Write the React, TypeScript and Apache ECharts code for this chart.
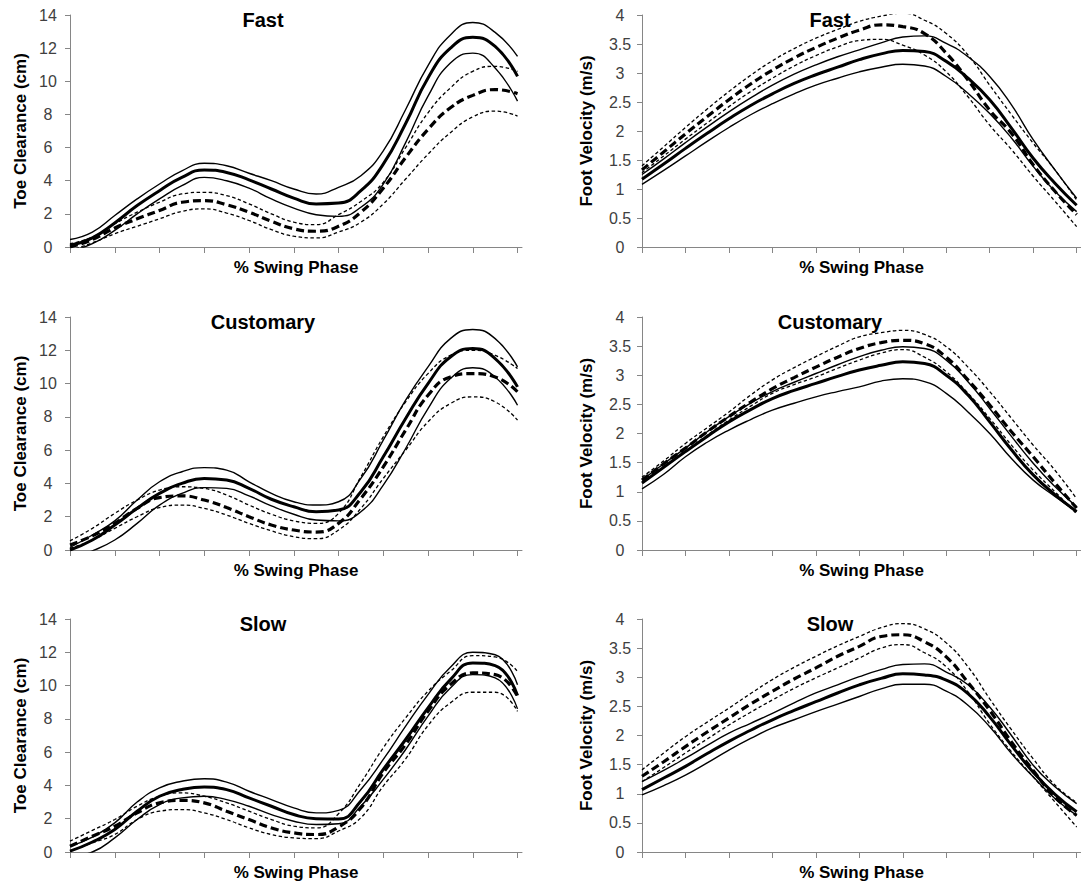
import React, { useEffect, useRef } from "react";
import * as echarts from "echarts";

// % swing phase sample points
const pct = [0, 5, 10, 15, 20, 25, 30, 35, 40, 45, 50, 55, 60, 65, 70, 75, 80, 85, 90, 95, 100];
const xTicks = [0, 10, 20, 30, 40, 50, 60, 70, 80, 90, 100];

// ---- Fast: toe clearance (cm) ----
const fastToeSolidUpper = [0.45, 0.9, 1.9, 2.9, 3.8, 4.6, 5.05, 4.9, 4.45, 4.0, 3.5, 3.2, 3.6, 4.3, 5.8, 8.3, 10.95, 12.8, 13.55, 12.95, 11.5];
const fastToeSolidMean = [0.1, 0.55, 1.45, 2.5, 3.4, 4.2, 4.65, 4.5, 4.05, 3.5, 2.95, 2.6, 2.65, 3.4, 5.0, 7.45, 10.2, 12.0, 12.65, 12.1, 10.3];
const fastToeSolidLower = [-0.25, 0.2, 1.0, 2.0, 2.9, 3.7, 4.2, 4.0, 3.55, 2.9, 2.35, 1.95, 1.85, 2.4, 3.8, 6.3, 9.1, 11.1, 11.7, 10.8, 8.8];
const fastToeDashUpper = [0.2, 0.6, 1.4, 2.1, 2.7, 3.2, 3.3, 3.1, 2.6, 2.0, 1.5, 1.35, 1.95, 2.75, 3.9, 6.0, 8.1, 9.6, 10.6, 10.9, 10.6];
const fastToeDashMean = [0.0, 0.45, 1.15, 1.7, 2.2, 2.7, 2.8, 2.55, 2.1, 1.55, 1.1, 0.95, 1.25, 2.1, 3.55, 5.4, 7.1, 8.4, 9.15, 9.5, 9.25];
const fastToeDashLower = [-0.2, 0.25, 0.8, 1.25, 1.7, 2.15, 2.3, 2.05, 1.6, 1.05, 0.65, 0.55, 0.9, 1.5, 2.6, 4.1, 5.6, 6.9, 7.85, 8.2, 7.9];

// ---- Fast: foot velocity (m/s) ----
const fastVelSolidUpper = [1.25, 1.52, 1.8, 2.07, 2.33, 2.57, 2.79, 2.98, 3.14, 3.28, 3.4, 3.52, 3.62, 3.64, 3.51, 3.28, 2.94, 2.45, 1.85, 1.33, 0.84];
const fastVelSolidMean = [1.17, 1.43, 1.7, 1.96, 2.21, 2.44, 2.64, 2.82, 2.97, 3.1, 3.23, 3.33, 3.39, 3.37, 3.2, 2.91, 2.54, 2.05, 1.53, 1.1, 0.72];
const fastVelSolidLower = [1.08, 1.32, 1.57, 1.82, 2.06, 2.28, 2.47, 2.64, 2.79, 2.91, 3.02, 3.1, 3.15, 3.12, 2.94, 2.65, 2.3, 1.88, 1.39, 0.96, 0.61];
const fastVelDashUpper = [1.4, 1.73, 2.06, 2.38, 2.68, 2.96, 3.21, 3.42, 3.6, 3.75, 3.89, 3.98, 4.03, 3.91, 3.68, 3.31, 2.79, 2.28, 1.79, 1.33, 0.81];
const fastVelDashMean = [1.33, 1.64, 1.95, 2.25, 2.54, 2.81, 3.05, 3.26, 3.44, 3.6, 3.74, 3.83, 3.8, 3.68, 3.34, 2.88, 2.36, 1.96, 1.42, 0.96, 0.56];
const fastVelDashLower = [1.28, 1.57, 1.86, 2.14, 2.42, 2.68, 2.91, 3.12, 3.3, 3.45, 3.56, 3.58, 3.48, 3.31, 3.02, 2.59, 2.1, 1.68, 1.22, 0.79, 0.35];

// ---- Customary: toe clearance (cm) ----
const custToeSolidUpper = [0.15, 0.9, 1.75, 3.0, 4.1, 4.7, 4.95, 4.8, 4.1, 3.4, 2.9, 2.7, 2.9, 4.3, 6.6, 9.0, 11.0, 12.7, 13.25, 12.7, 11.0];
const custToeSolidMean = [0.0, 0.6, 1.5, 2.5, 3.4, 4.0, 4.3, 4.2, 3.7, 3.05, 2.6, 2.3, 2.4, 3.5, 5.6, 7.9, 10.0, 11.6, 12.1, 11.5, 9.8];
const custToeSolidLower = [-0.5, -0.05, 0.6, 1.6, 2.7, 3.4, 3.75, 3.7, 3.25, 2.65, 2.15, 1.8, 1.75, 2.3, 3.9, 6.1, 8.5, 10.3, 10.95, 10.4, 8.7];
const custToeDashUpper = [0.55, 1.3, 2.2, 3.0, 3.6, 3.8, 3.7, 3.3, 2.7, 2.15, 1.75, 1.6, 2.2, 4.4, 6.8, 8.9, 10.6, 11.7, 12.0, 11.7, 10.9];
const custToeDashMean = [0.3, 0.85, 1.6, 2.5, 3.15, 3.25, 3.0, 2.55, 2.0, 1.5, 1.2, 1.08, 1.6, 3.1, 5.0, 7.2, 9.3, 10.4, 10.6, 10.4, 9.5];
const custToeDashLower = [0.1, 0.6, 1.3, 2.0, 2.55, 2.7, 2.5, 2.1, 1.6, 1.15, 0.8, 0.68, 1.2, 2.5, 4.3, 6.0, 7.7, 8.8, 9.2, 8.9, 7.8];

// ---- Customary: foot velocity (m/s) ----
const custVelSolidUpper = [1.2, 1.48, 1.75, 2.03, 2.29, 2.52, 2.72, 2.88, 3.03, 3.18, 3.32, 3.43, 3.49, 3.46, 3.26, 2.89, 2.43, 1.95, 1.49, 1.09, 0.74];
const custVelSolidMean = [1.15, 1.42, 1.69, 1.95, 2.2, 2.41, 2.6, 2.74, 2.86, 2.98, 3.09, 3.17, 3.23, 3.2, 3.0, 2.66, 2.2, 1.72, 1.29, 0.95, 0.66];
const custVelSolidLower = [1.05, 1.3, 1.6, 1.85, 2.06, 2.24, 2.4, 2.52, 2.63, 2.72, 2.8, 2.9, 2.94, 2.89, 2.69, 2.37, 2.0, 1.57, 1.2, 0.92, 0.66];
const custVelDashUpper = [1.25, 1.53, 1.83, 2.1, 2.37, 2.66, 2.92, 3.13, 3.32, 3.5, 3.66, 3.73, 3.77, 3.7, 3.49, 3.14, 2.72, 2.26, 1.8, 1.37, 0.88];
const custVelDashMean = [1.2, 1.48, 1.75, 2.03, 2.29, 2.54, 2.77, 2.96, 3.14, 3.31, 3.46, 3.56, 3.6, 3.54, 3.31, 2.92, 2.49, 2.03, 1.6, 1.15, 0.72];
const custVelDashLower = [1.15, 1.42, 1.69, 1.97, 2.23, 2.47, 2.69, 2.84, 2.97, 3.12, 3.26, 3.38, 3.44, 3.31, 3.06, 2.69, 2.26, 1.8, 1.37, 1.0, 0.62];

// ---- Slow: toe clearance (cm) ----
const slowToeSolidUpper = [0.35, 0.9, 1.75, 3.0, 3.85, 4.25, 4.4, 4.2, 3.65, 3.15, 2.65, 2.35, 2.5, 3.76, 5.56, 7.56, 9.46, 11.1, 12.0, 11.85, 10.05];
const slowToeSolidMean = [0.05, 0.6, 1.35, 2.45, 3.35, 3.75, 3.9, 3.75, 3.25, 2.75, 2.25, 2.0, 1.98, 3.06, 4.96, 6.76, 8.66, 10.36, 11.36, 11.2, 9.4];
const slowToeSolidLower = [-0.25, 0.0, 0.85, 1.95, 2.85, 3.25, 3.35, 3.15, 2.75, 2.25, 1.85, 1.65, 1.7, 2.76, 4.36, 6.16, 8.16, 9.86, 10.66, 10.46, 8.6];
const slowToeDashUpper = [0.65, 1.3, 1.95, 2.75, 3.35, 3.55, 3.35, 2.95, 2.45, 1.95, 1.55, 1.45, 2.3, 4.16, 6.26, 8.06, 9.66, 10.86, 11.8, 11.72, 10.85];
const slowToeDashMean = [0.35, 0.95, 1.55, 2.35, 2.95, 3.1, 2.95, 2.45, 1.95, 1.45, 1.15, 1.05, 1.5, 2.66, 4.76, 6.46, 8.46, 10.06, 10.76, 10.66, 9.35];
const slowToeDashLower = [0.05, 0.55, 1.05, 1.95, 2.45, 2.55, 2.35, 1.95, 1.45, 1.05, 0.85, 0.8, 1.26, 2.06, 3.96, 5.6, 7.6, 8.96, 9.6, 9.6, 8.45];

// ---- Slow: foot velocity (m/s) ----
const slowVelSolidUpper = [1.21, 1.4, 1.61, 1.83, 2.04, 2.21, 2.38, 2.56, 2.73, 2.87, 3.01, 3.13, 3.22, 3.23, 3.09, 2.87, 2.49, 2.0, 1.49, 1.12, 0.83];
const slowVelSolidMean = [1.07, 1.27, 1.47, 1.69, 1.9, 2.09, 2.27, 2.43, 2.58, 2.73, 2.87, 2.98, 3.06, 3.04, 2.95, 2.72, 2.32, 1.83, 1.37, 0.99, 0.69];
const slowVelSolidLower = [0.98, 1.14, 1.32, 1.53, 1.75, 1.95, 2.13, 2.27, 2.41, 2.54, 2.67, 2.8, 2.88, 2.88, 2.76, 2.52, 2.15, 1.69, 1.29, 0.92, 0.63];
const slowVelDashUpper = [1.41, 1.7, 1.98, 2.23, 2.47, 2.72, 2.96, 3.17, 3.36, 3.54, 3.7, 3.85, 3.92, 3.83, 3.59, 3.18, 2.63, 2.1, 1.6, 1.15, 0.85];
const slowVelDashMean = [1.3, 1.55, 1.81, 2.06, 2.3, 2.54, 2.76, 2.97, 3.16, 3.36, 3.53, 3.7, 3.73, 3.61, 3.35, 2.91, 2.43, 1.89, 1.4, 0.94, 0.63];
const slowVelDashLower = [1.21, 1.45, 1.7, 1.94, 2.18, 2.4, 2.61, 2.81, 2.99, 3.16, 3.33, 3.5, 3.56, 3.42, 3.18, 2.75, 2.2, 1.72, 1.29, 0.86, 0.43];

const rowTitles = ["Fast", "Customary", "Slow"];
const toeName = "Toe Clearance (cm)";
const velName = "Foot Velocity (m/s)";
const xName = "% Swing Phase";

type Lines = { su: number[]; sm: number[]; sl: number[]; du: number[]; dm: number[]; dl: number[] };

const panels: { row: number; col: number; lines: Lines }[] = [
  { row: 0, col: 0, lines: { su: fastToeSolidUpper, sm: fastToeSolidMean, sl: fastToeSolidLower, du: fastToeDashUpper, dm: fastToeDashMean, dl: fastToeDashLower } },
  { row: 0, col: 1, lines: { su: fastVelSolidUpper, sm: fastVelSolidMean, sl: fastVelSolidLower, du: fastVelDashUpper, dm: fastVelDashMean, dl: fastVelDashLower } },
  { row: 1, col: 0, lines: { su: custToeSolidUpper, sm: custToeSolidMean, sl: custToeSolidLower, du: custToeDashUpper, dm: custToeDashMean, dl: custToeDashLower } },
  { row: 1, col: 1, lines: { su: custVelSolidUpper, sm: custVelSolidMean, sl: custVelSolidLower, du: custVelDashUpper, dm: custVelDashMean, dl: custVelDashLower } },
  { row: 2, col: 0, lines: { su: slowToeSolidUpper, sm: slowToeSolidMean, sl: slowToeSolidLower, du: slowToeDashUpper, dm: slowToeDashMean, dl: slowToeDashLower } },
  { row: 2, col: 1, lines: { su: slowVelSolidUpper, sm: slowVelSolidMean, sl: slowVelSolidLower, du: slowVelDashUpper, dm: slowVelDashMean, dl: slowVelDashLower } },
];

const rowTop = [15, 317, 619];
const rowHeight = [232, 233, 233];
const colLeft = [70, 642];
const colWidth = [452, 447];
const titleX = [263, 830];
const titleY = [20, 322, 624];

const AXIS_COLOR = "#868686";
const FONT = "'Liberation Sans', Arial, sans-serif";

function buildOption() {
  const grid: any[] = [];
  const xAxis: any[] = [];
  const yAxis: any[] = [];
  const series: any[] = [];
  const graphic: any[] = [];

  panels.forEach((p, i) => {
    grid.push({
      left: colLeft[p.col],
      top: rowTop[p.row],
      width: colWidth[p.col],
      height: rowHeight[p.row],
    });
    xAxis.push({
      gridIndex: i,
      type: "value",
      min: 0,
      max: 101,
      interval: 10,
      name: xName,
      nameLocation: "middle",
      nameGap: 12,
      nameTextStyle: { fontFamily: FONT, fontSize: 17, fontWeight: "bold", color: "#000" },
      axisLine: { show: true, onZero: false, lineStyle: { color: AXIS_COLOR, width: 1 } },
      axisTick: { show: true, inside: false, length: 6, customValues: xTicks, lineStyle: { color: AXIS_COLOR } },
      axisLabel: { show: false },
      splitLine: { show: false },
    });
    const isToe = p.col === 0;
    yAxis.push({
      gridIndex: i,
      type: "value",
      min: 0,
      max: isToe ? 14 : 4,
      interval: isToe ? 2 : 0.5,
      name: isToe ? toeName : velName,
      nameLocation: "middle",
      nameGap: isToe ? 41 : 47,
      nameTextStyle: { fontFamily: FONT, fontSize: 17, fontWeight: "bold", color: "#000" },
      axisLine: { show: true, lineStyle: { color: AXIS_COLOR, width: 1 } },
      axisTick: { show: true, inside: false, length: 5, lineStyle: { color: AXIS_COLOR } },
      axisLabel: { align: "center", margin: 22, fontFamily: FONT, fontSize: 16, color: "#404040" },
      splitLine: { show: false },
    });

    const mk = (arr: number[], width: number, type: any, z: number) => ({
      type: "line",
      xAxisIndex: i,
      yAxisIndex: i,
      data: pct.map((x, k) => [x, arr[k]]),
      smooth: 0.5,
      showSymbol: false,
      symbol: "none",
      clip: true,
      z,
      lineStyle: { color: "#000", width, type, cap: "butt" },
      emphasis: { disabled: true },
    });
    const L = p.lines;
    series.push(mk(L.su, 1.4, "solid", 2));
    series.push(mk(L.sl, 1.4, "solid", 2));
    series.push(mk(L.du, 1.3, [3.5, 2.5], 2));
    series.push(mk(L.dl, 1.3, [3.5, 2.5], 2));
    series.push(mk(L.sm, 3, "solid", 3));
    series.push(mk(L.dm, 3.2, [8, 4], 3));

    graphic.push({
      type: "text",
      x: titleX[p.col],
      y: titleY[p.row],
      z: 10,
      style: {
        text: rowTitles[p.row],
        fontFamily: FONT,
        fontSize: 20,
        fontWeight: "bold",
        fill: "#000",
        textAlign: "center",
        textVerticalAlign: "middle",
        align: "center",
        verticalAlign: "middle",
      },
    });
  });

  return {
    animation: false,
    backgroundColor: "#fff",
    grid,
    xAxis,
    yAxis,
    series,
    graphic,
  };
}

export default function App() {
  const ref = useRef<HTMLDivElement>(null);
  useEffect(() => {
    if (!ref.current) return;
    const chart = echarts.init(ref.current, undefined, { renderer: "svg" });
    chart.setOption(buildOption() as any);
    return () => chart.dispose();
  }, []);
  return (
    <div
      ref={ref}
      style={{ position: "absolute", left: 0, top: 0, width: 1081, height: 886, background: "#fff" }}
    />
  );
}
